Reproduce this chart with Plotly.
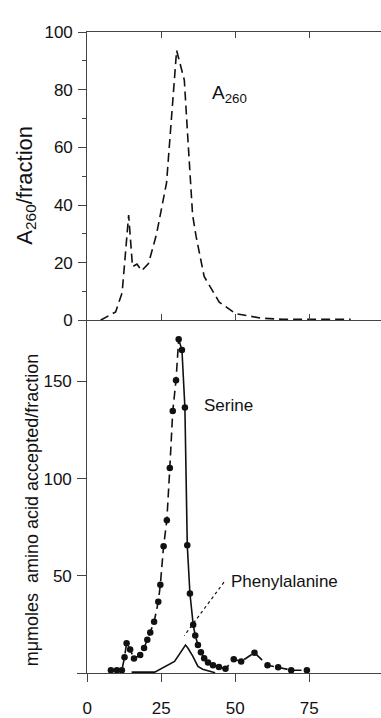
import plotly.graph_objects as go

# ---- data ----
a260_x = [4.5, 9.6, 11.8, 14.0, 15.3, 16.8, 18.4, 20.7, 23.4, 26.8, 30.2, 31.2, 32.8, 34.0, 35.6, 36.8, 39.5, 44.6, 50.1, 59.0, 66.0, 89.0]
a260_y = [0.0, 2.9, 9.6, 36.5, 18.6, 19.5, 17.2, 19.7, 29.8, 47.7, 93.7, 90.0, 83.4, 63.0, 36.5, 29.0, 15.2, 6.3, 2.3, 0.7, 0.3, 0.3]

ser_x = [8.0, 10.0, 11.7, 12.6, 13.3, 14.5, 15.8, 17.9, 19.2, 20.3, 21.3, 22.6, 24.0, 24.7, 25.8, 26.9, 27.9, 28.9,
         30.0, 30.9, 32.0, 33.0, 33.8, 34.7, 35.8, 36.5, 37.4, 38.4, 39.5, 40.8, 42.5, 44.5, 46.7, 49.5, 52.0,
         56.5, 60.9, 64.5, 68.9, 74.2]
ser_y = [1.6, 1.6, 1.6, 8.2, 15.5, 12.2, 7.6, 9.4, 13.0, 17.2, 21.0, 26.5, 36.7, 45.5, 65.2, 78.6, 105.4, 134.7,
         150.5, 171.5, 166.0, 136.5, 65.7, 41.0, 25.0, 19.4, 14.5, 10.8, 7.8, 5.5, 4.1, 3.3, 2.3, 7.2, 6.1,
         10.6, 4.1, 3.1, 1.6, 1.6]

phe_x = [15.0, 22.8, 29.5, 32.5, 33.2, 34.0, 35.6, 37.4, 39.0, 43.2]
phe_y = [0.6, 0.6, 6.1, 13.5, 14.5, 13.0, 9.0, 3.6, 2.1, 0.3]

x_ticks = [0, 25, 50, 75]
top_y_ticks = [0, 20, 40, 60, 80, 100]
bot_y_ticks = [0, 50, 100, 150]
bot_y_text = ["", "50", "100", "150"]

# ---- figure ----
W, H = 381, 718
FONT = "Liberation Sans"
INK = "#111111"
AX = "#444444"

fig = go.Figure()

fig.add_trace(go.Scatter(x=a260_x, y=a260_y, mode="lines", xaxis="x", yaxis="y",
                         line=dict(color=INK, width=1.6, dash="9px,5px"), showlegend=False))

# serine: dashed rise, solid around the peak, dashed tail
i0, i1 = 19, 24
fig.add_trace(go.Scatter(x=ser_x[:i0 + 1], y=ser_y[:i0 + 1], mode="lines", xaxis="x2", yaxis="y2",
                         line=dict(color=INK, width=1.6, dash="9px,5px"), showlegend=False))
fig.add_trace(go.Scatter(x=ser_x[i0:i1 + 1], y=ser_y[i0:i1 + 1], mode="lines", xaxis="x2", yaxis="y2",
                         line=dict(color=INK, width=1.6), showlegend=False))
fig.add_trace(go.Scatter(x=ser_x[i1:], y=ser_y[i1:], mode="lines", xaxis="x2", yaxis="y2",
                         line=dict(color=INK, width=1.6, dash="9px,5px"), showlegend=False))
fig.add_trace(go.Scatter(x=phe_x, y=phe_y, mode="lines", xaxis="x2", yaxis="y2",
                         line=dict(color=INK, width=1.6), showlegend=False))
fig.add_trace(go.Scatter(x=ser_x, y=ser_y, mode="markers", xaxis="x2", yaxis="y2",
                         marker=dict(color=INK, size=6.5), showlegend=False))

x0 = 83.3 / W
y_top = 1 - 24 / H
y_mid = 1 - 322 / H
y_bot = 1 - 687.3 / H
xr = [0, (W - 83.3) / 3.0]

tickfont = dict(family=FONT, size=17, color=INK)

fig.update_layout(
    width=W, height=H,
    margin=dict(l=0, r=0, t=0, b=0),
    paper_bgcolor="white", plot_bgcolor="white",
    xaxis=dict(domain=[x0, 1], range=xr, anchor="y", showgrid=False, zeroline=False,
               showline=True, linecolor=AX, linewidth=1, mirror="ticks",
               ticks="inside", ticklen=6, tickcolor=AX, tickvals=x_ticks[1:], showticklabels=False),
    yaxis=dict(domain=[y_mid, y_top], range=[0, 100], anchor="x", showgrid=False, zeroline=False,
               showline=True, linecolor=AX, linewidth=1,
               ticks="outside", ticklen=8, tickcolor=AX, tickvals=top_y_ticks,
               tickfont=tickfont, ticklabelstandoff=2,
               minor=dict(tickvals=[10, 30, 50, 70, 90], ticks="outside", ticklen=4, tickcolor=AX)),
    xaxis2=dict(domain=[x0, 1], range=xr, anchor="y2", showgrid=False, zeroline=False,
                showline=True, linecolor=AX, linewidth=1,
                ticks="outside", ticklen=8, tickcolor=AX, tickvals=x_ticks,
                tickfont=tickfont, ticklabelstandoff=11),
    yaxis2=dict(domain=[y_bot, y_mid], range=[0, (687.3 - 322) / 2.015], anchor="x2",
                showgrid=False, zeroline=False, showline=True, linecolor=AX, linewidth=1,
                ticks="outside", ticklen=9, tickcolor=AX, tickvals=bot_y_ticks, ticktext=bot_y_text,
                tickfont=tickfont, ticklabelstandoff=2),
)

# dotted pointer to phenylalanine curve
fig.add_shape(type="line", xref="x2", yref="y2", x0=46.2, y0=46.8, x1=32.8, y1=19.4,
              line=dict(color=INK, width=1.2, dash="dot"))

lab = dict(family=FONT, size=17, color=INK)
fig.add_annotation(x=47.8, y=137.6, xref="x2", yref="y2", text="Serine", showarrow=False, font=lab)
fig.add_annotation(x=66.6, y=47.3, xref="x2", yref="y2", text="Phenylalanine", showarrow=False, font=lab)
fig.add_annotation(x=48.0, y=78.5, xref="x", yref="y", text="A<sub>260</sub>", showarrow=False,
                   font=dict(family=FONT, size=19, color=INK))

fig.add_annotation(x=21 / W, y=1 - 182 / H, xref="paper", yref="paper", text="A<sub>260</sub>/fraction",
                   textangle=-90, showarrow=False, xanchor="center", yanchor="middle",
                   font=dict(family=FONT, size=22, color=INK))
fig.add_annotation(x=27 / W, y=1 - 518 / H, xref="paper", yref="paper",
                   text="mμmoles  amino acid accepted/fraction",
                   textangle=-90, showarrow=False, xanchor="center", yanchor="middle",
                   font=dict(family=FONT, size=18, color=INK))

fig.write_html("out.html")
